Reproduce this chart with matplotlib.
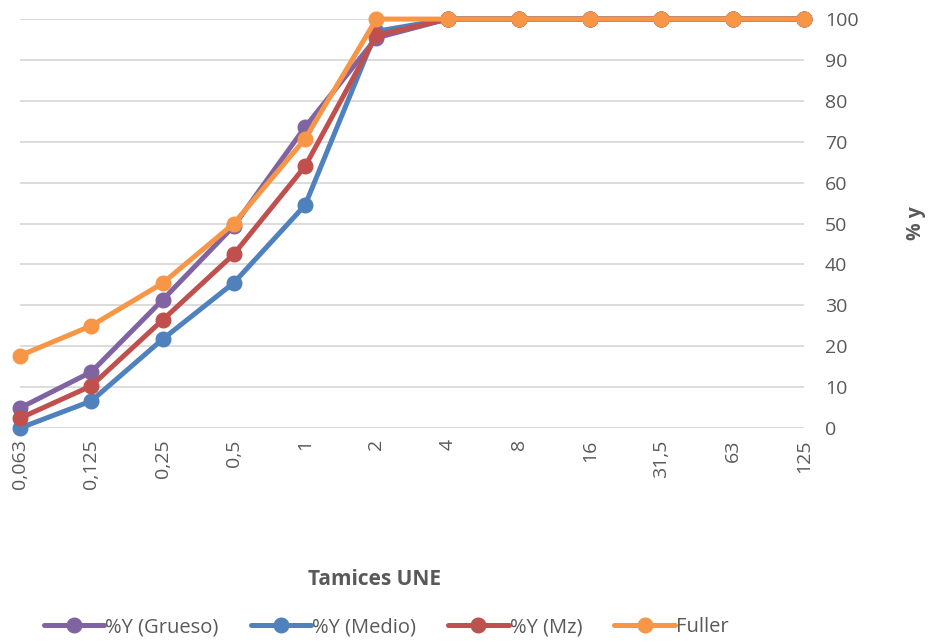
import matplotlib
matplotlib.use("Agg")
import matplotlib.pyplot as plt

tamices = ["0,063", "0,125", "0,25", "0,5", "1", "2", "4", "8", "16", "31,5", "63", "125"]
grueso = [4.9, 13.7, 31.3, 49.4, 73.6, 95.4, 100, 100, 100, 100, 100, 100]
medio = [0.0, 6.6, 21.7, 35.5, 54.5, 97.0, 100, 100, 100, 100, 100, 100]
mz = [2.4, 10.3, 26.4, 42.5, 64.0, 96.0, 100, 100, 100, 100, 100, 100]
fuller = [17.7, 25.0, 35.4, 50.0, 70.7, 100, 100, 100, 100, 100, 100, 100]

series = [
    ("%Y (Grueso)", grueso, "#8064a2"),
    ("%Y (Medio)", medio, "#4f81bd"),
    ("%Y (Mz)", mz, "#c0504d"),
    ("Fuller", fuller, "#f79646"),
]

plt.rcParams["font.family"] = ["Open Sans", "DejaVu Sans"]
text_color = "#595959"

fig = plt.figure(figsize=(9.3, 6.42), dpi=100)
ax = fig.add_axes([0.0215, 0.3333, 0.843, 0.637])

x = list(range(len(tamices)))
for name, vals, color in series:
    ax.plot(x, vals, color=color, lw=3.6, marker="o", ms=10.5,
            label=name, clip_on=False, zorder=3, solid_capstyle="round")

ax.set_xlim(0, len(tamices) - 1)
ax.set_ylim(0, 100)
ax.set_yticks(range(0, 101, 10))
ax.set_xticks(x)
ax.set_xticklabels(tamices, rotation=90, va="top", ha="center")
ax.yaxis.tick_right()
ax.yaxis.set_label_position("right")
ax.tick_params(axis="both", length=0, labelsize=14, colors=text_color)
ax.tick_params(axis="y", pad=15)
ax.tick_params(axis="x", pad=8)
ax.grid(axis="y", color="#d9d9d9", lw=1.3, zorder=0)
for s in ax.spines.values():
    s.set_visible(False)

ax.set_ylabel("% y", fontsize=14, fontweight="bold", color=text_color,
              rotation=90, labelpad=34)
fig.text(0.403, 0.097, "Tamices UNE", ha="center", va="center",
         fontsize=15, fontweight="bold", color=text_color)

fig.legend(loc="center", bbox_to_anchor=(0.415, 0.023), ncol=4, frameon=False,
           fontsize=14.5, labelcolor=text_color, handlelength=3.0,
           columnspacing=1.6, handletextpad=0.05)

fig.savefig("out.png", dpi=100)
